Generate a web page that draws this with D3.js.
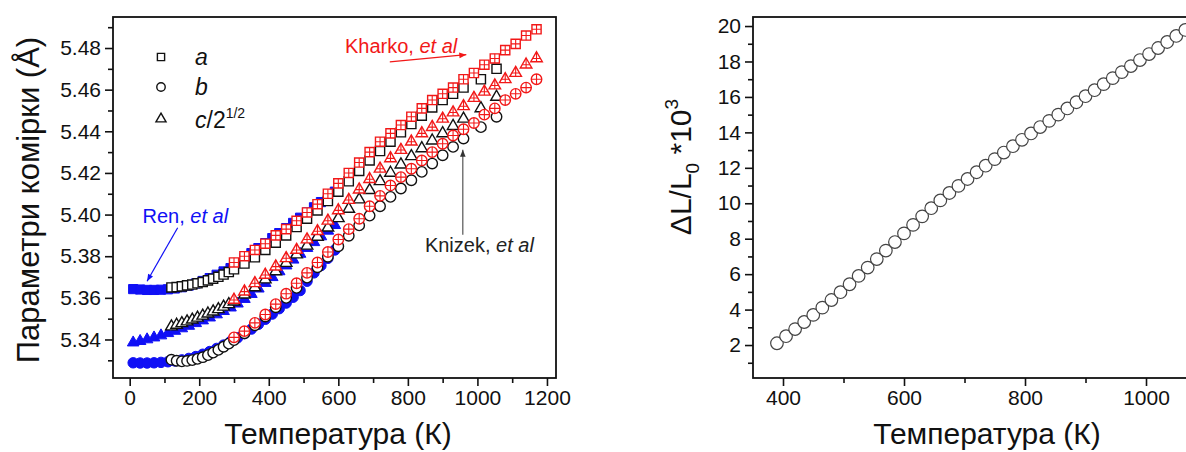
<!DOCTYPE html>
<html>
<head>
<meta charset="utf-8">
<script src="https://cdn.jsdelivr.net/npm/d3@7"></script>
<style>
  body { margin: 0; background: #fff; }
  svg { display: block; }
  text { font-family: "Liberation Sans", Arial, sans-serif; fill: #111; }
</style>
</head>
<body>
<div id="chart"></div>
<script>
// ---- left panel: lattice parameters (Å) vs temperature (K) ----
// Ren, et al (filled blue)
const renT = [10, 30, 50, 70, 90, 110, 130, 150, 170, 190, 210, 230, 250, 270, 290,
              310, 330, 350, 370, 390, 410, 430, 450, 470, 490, 510, 530, 550, 570, 590];
const renA = [5.3642, 5.3640, 5.3638, 5.3638, 5.3639, 5.3641, 5.3645, 5.3651, 5.3659, 5.3669,
              5.3681, 5.3695, 5.3711, 5.3727, 5.3743, 5.3767, 5.3791, 5.3815, 5.3839, 5.3863,
              5.3887, 5.3911, 5.3935, 5.3960, 5.3985, 5.4010, 5.4035, 5.4060, 5.4085, 5.4110];
const renB = [5.3288, 5.3287, 5.3287, 5.3288, 5.3290, 5.3293, 5.3297, 5.3302, 5.3309, 5.3318,
              5.3329, 5.3342, 5.3357, 5.3373, 5.3390, 5.3408, 5.3428, 5.3450, 5.3473, 5.3497,
              5.3522, 5.3548, 5.3575, 5.3603, 5.3635, 5.3680, 5.3720, 5.3755, 5.3790, 5.3830];
const renC = [5.3385, 5.3392, 5.3400, 5.3409, 5.3419, 5.3430, 5.3441, 5.3453, 5.3465, 5.3478,
              5.3491, 5.3505, 5.3520, 5.3536, 5.3553, 5.3572, 5.3594, 5.3618, 5.3644, 5.3671,
              5.3699, 5.3727, 5.3755, 5.3783, 5.3811, 5.3839, 5.3867, 5.3895, 5.3922, 5.3949];

// Knizek, et al (open black)
const knizekT = [120, 135, 150, 165, 180, 195, 210, 225, 240, 255, 270, 285, 300,
                 330, 360, 390, 420, 450, 480, 510, 540, 570, 600, 630, 660, 690, 720,
                 750, 780, 810, 840, 870, 900, 930, 960, 1010, 1055];
const knizekA = [5.3650, 5.3652, 5.3655, 5.3660, 5.3664, 5.3670, 5.3676, 5.3684, 5.3692, 5.3701,
                 5.3712, 5.3724, 5.3737, 5.3765, 5.3795, 5.3830, 5.3865, 5.3900, 5.3940, 5.3980,
                 5.4020, 5.4065, 5.4110, 5.4160, 5.4210, 5.4260, 5.4305, 5.4350, 5.4395, 5.4435,
                 5.4475, 5.4515, 5.4550, 5.4580, 5.4610, 5.4650, 5.4700];
const knizekB = [5.3303, 5.3298, 5.3295, 5.3297, 5.3301, 5.3307, 5.3315, 5.3325, 5.3337, 5.3350,
                 5.3365, 5.3380, 5.3397, 5.3430, 5.3468, 5.3510, 5.3555, 5.3600, 5.3648, 5.3697,
                 5.3747, 5.3797, 5.3848, 5.3898, 5.3948, 5.3995, 5.4040, 5.4085, 5.4125, 5.4165,
                 5.4205, 5.4245, 5.4285, 5.4325, 5.4365, 5.4420, 5.4470];
const knizekC = [5.3462, 5.3470, 5.3478, 5.3486, 5.3495, 5.3504, 5.3514, 5.3524, 5.3534, 5.3545,
                 5.3557, 5.3569, 5.3582, 5.3615, 5.3650, 5.3688, 5.3727, 5.3767, 5.3808, 5.3850,
                 5.3893, 5.3937, 5.3982, 5.4027, 5.4072, 5.4117, 5.4160, 5.4200, 5.4240, 5.4280,
                 5.4318, 5.4355, 5.4390, 5.4425, 5.4460, 5.4510, 5.4565];

// Kharko, et al (red, crossed)
const kharkoT = [300, 330, 360, 390, 420, 450, 480, 510, 540, 570, 600, 630, 660, 690, 720,
                 750, 780, 810, 840, 870, 900, 930, 960, 990, 1020, 1050, 1080, 1110, 1140, 1170];
const kharkoA = [5.377, 5.380, 5.383, 5.386, 5.390, 5.393, 5.397, 5.401, 5.405, 5.410,
                 5.415, 5.420, 5.425, 5.430, 5.435, 5.439, 5.443, 5.447, 5.451, 5.455,
                 5.458, 5.461, 5.465, 5.468, 5.472, 5.475, 5.479, 5.482, 5.486, 5.489];
const kharkoB = [5.341, 5.344, 5.348, 5.352, 5.357, 5.362, 5.367, 5.372, 5.377, 5.382,
                 5.388, 5.393, 5.398, 5.404, 5.409, 5.414, 5.418, 5.422, 5.426, 5.430,
                 5.434, 5.438, 5.441, 5.444, 5.448, 5.451, 5.455, 5.458, 5.461, 5.465];
const kharkoC = [5.359, 5.363, 5.367, 5.371, 5.375, 5.379, 5.383, 5.388, 5.392, 5.397,
                 5.402, 5.407, 5.412, 5.417, 5.422, 5.427, 5.431, 5.435, 5.439, 5.442,
                 5.446, 5.449, 5.452, 5.456, 5.459, 5.462, 5.465, 5.468, 5.472, 5.475];

const leftXTicks = [0, 200, 400, 600, 800, 1000, 1200];
const leftXMinor = [100, 300, 500, 700, 900, 1100];
const leftYTicks = [5.34, 5.36, 5.38, 5.40, 5.42, 5.44, 5.46, 5.48];
const leftYMinor = [5.33, 5.35, 5.37, 5.39, 5.41, 5.43, 5.45, 5.47, 5.49];

// ---- right panel: relative elongation ΔL/L0 * 10^3 ----
const dilT = [390, 405, 420, 435, 450, 465, 480, 495, 510, 525, 540, 555, 570, 585, 600,
              615, 630, 645, 660, 675, 690, 705, 720, 735, 750, 765, 780, 795, 810, 825,
              840, 855, 870, 885, 900, 915, 930, 945, 960, 975, 990, 1005, 1020, 1035, 1050, 1065];
const dilV = [2.10, 2.50, 2.90, 3.30, 3.70, 4.11, 4.54, 4.98, 5.43, 5.90, 6.37, 6.85, 7.33, 7.81, 8.30,
              8.78, 9.26, 9.72, 10.16, 10.58, 10.98, 11.37, 11.75, 12.12, 12.49, 12.86, 13.22, 13.58, 13.94, 14.30,
              14.65, 15.00, 15.35, 15.70, 16.04, 16.38, 16.72, 17.06, 17.40, 17.74, 18.08, 18.42, 18.76, 19.10, 19.44, 19.78];

const rightXTicks = [400, 600, 800, 1000];
const rightXMinor = [500, 700, 900, 1100];
const rightYTicks = [2, 4, 6, 8, 10, 12, 14, 16, 18, 20];
const rightYMinor = [1, 3, 5, 7, 9, 11, 13, 15, 17, 19];

const BLUE = "#1010f5";
const RED = "#f21818";

const svg = d3.select("#chart").append("svg")
    .attr("width", 1186)
    .attr("height", 452)
    .style("background", "#fff");

// arrow heads
const defs = svg.append("defs");
[["arrRed", RED], ["arrBlack", "#333"], ["arrBlue", BLUE]].forEach(([id, col]) => {
    defs.append("marker")
        .attr("id", id)
        .attr("viewBox", "0 -5 10 10")
        .attr("refX", 10).attr("refY", 0)
        .attr("markerWidth", 9).attr("markerHeight", 7)
        .attr("markerUnits", "userSpaceOnUse")
        .attr("orient", "auto")
        .append("path")
        .attr("d", "M0,-4L10,0L0,4Z")
        .attr("fill", col);
});

// marker shapes: outline + optional cross
function shapePath(kind) {
    if (kind === "square") return d3.symbol(d3.symbolSquare, 84)();
    if (kind === "circle") return d3.symbol(d3.symbolCircle, 86)();
    return d3.symbol(d3.symbolTriangle, 58)();
}
function crossPath(kind) {
    if (kind === "square") return "M-4.6,0H4.6M0,-4.6V4.6";
    if (kind === "circle") return "M-5.2,0H5.2M0,-5.2V5.2";
    return "M0,-6.6V3.3M-3.8,0H3.8";
}

function drawSeries(g, x, y, T, V, kind, opts) {
    const pts = g.append("g").selectAll("g")
        .data(T.map((t, i) => ({ t: t, v: V[i] })))
        .enter().append("g")
        .attr("transform", d => `translate(${x(d.t)},${y(d.v)})`);
    pts.append("path")
        .attr("d", shapePath(kind))
        .attr("fill", opts.fill)
        .attr("stroke", opts.stroke)
        .attr("stroke-width", opts.width);
    if (opts.cross) {
        pts.append("path")
            .attr("d", crossPath(kind))
            .attr("fill", "none")
            .attr("stroke", opts.stroke)
            .attr("stroke-width", 1.1);
    }
}

function drawAxes(g, x, y, w, h, xt, xm, yt, ym, yFmt) {
    const ax = g.append("g").attr("transform", `translate(0,${h})`);
    ax.call(d3.axisBottom(x).tickValues(xt).tickSize(8).tickPadding(4).tickFormat(d3.format("d")));
    ax.append("g").call(d3.axisBottom(x).tickValues(xm).tickSize(5).tickFormat(""));
    const ay = g.append("g");
    ay.call(d3.axisLeft(y).tickValues(yt).tickSize(8).tickPadding(4).tickFormat(yFmt));
    ay.append("g").call(d3.axisLeft(y).tickValues(ym).tickSize(5).tickFormat(""));
    g.selectAll(".domain").remove();
    g.selectAll(".tick line").attr("stroke", "#111").attr("stroke-width", 1.6);
    g.selectAll(".tick text").attr("font-size", "21px").attr("fill", "#111");
    g.append("rect")
        .attr("width", w).attr("height", h)
        .attr("fill", "none")
        .attr("stroke", "#111")
        .attr("stroke-width", 1.8);
}

// ================= left panel =================
const L = { left: 113, top: 17, width: 443, height: 361 };
const gL = svg.append("g").attr("transform", `translate(${L.left},${L.top})`);

const xL = d3.scaleLinear().domain([-48, 1226]).range([0, L.width]);
const yL = d3.scaleLinear().domain([5.3215, 5.4949]).range([L.height, 0]);

drawAxes(gL, xL, yL, L.width, L.height, leftXTicks, leftXMinor, leftYTicks, leftYMinor, d3.format(".2f"));

const plotL = gL.append("g");
// Ren (blue, filled)
drawSeries(plotL, xL, yL, renT, renA, "square", { fill: BLUE, stroke: BLUE, width: 1 });
drawSeries(plotL, xL, yL, renT, renC, "triangle", { fill: BLUE, stroke: BLUE, width: 1 });
drawSeries(plotL, xL, yL, renT, renB, "circle", { fill: BLUE, stroke: BLUE, width: 1 });
// Knizek (black, open)
drawSeries(plotL, xL, yL, knizekT, knizekA, "square", { fill: "#fff", stroke: "#111", width: 1.4 });
drawSeries(plotL, xL, yL, knizekT, knizekC, "triangle", { fill: "#fff", stroke: "#111", width: 1.4 });
drawSeries(plotL, xL, yL, knizekT, knizekB, "circle", { fill: "#fff", stroke: "#111", width: 1.4 });
// Kharko (red, crossed)
drawSeries(plotL, xL, yL, kharkoT, kharkoA, "square", { fill: "#fff", stroke: RED, width: 1.4, cross: true });
drawSeries(plotL, xL, yL, kharkoT, kharkoC, "triangle", { fill: "#fff", stroke: RED, width: 1.4, cross: true });
drawSeries(plotL, xL, yL, kharkoT, kharkoB, "circle", { fill: "#fff", stroke: RED, width: 1.4, cross: true });

// legend
const legend = gL.append("g").attr("transform", "translate(48,40)");
const legendItems = [
    { kind: "square", dy: 0, size: 52 },
    { kind: "circle", dy: 30, size: 56 },
    { kind: "triangle", dy: 62, size: 44 }
];
legendItems.forEach(it => {
    legend.append("path")
        .attr("transform", `translate(0,${it.dy})`)
        .attr("d", it.kind === "square" ? d3.symbol(d3.symbolSquare, it.size)()
              : it.kind === "circle" ? d3.symbol(d3.symbolCircle, it.size)()
              : d3.symbol(d3.symbolTriangle, it.size)())
        .attr("fill", "none").attr("stroke", "#111").attr("stroke-width", 1.4);
});
legend.append("text").attr("x", 34).attr("y", 8).attr("font-size", "23px")
    .attr("font-style", "italic").text("a");
legend.append("text").attr("x", 34).attr("y", 38).attr("font-size", "23px")
    .attr("font-style", "italic").text("b");
const lc = legend.append("text").attr("x", 34).attr("y", 71).attr("font-size", "23px")
    .attr("font-style", "italic");
lc.append("tspan").text("c");
lc.append("tspan").attr("font-style", "normal").text("/2");
lc.append("tspan").attr("font-style", "normal").attr("font-size", "14px").attr("dy", -10).text("1/2");

// annotations
function label(g, x, y, parts, color) {
    const t = g.append("text").attr("x", x).attr("y", y).attr("font-size", "20px").style("fill", color);
    t.append("tspan").text(parts[0]);
    t.append("tspan").attr("font-style", "italic").text(parts[1]);
}
label(gL, xL(619), yL(5.4776), ["Kharko, ", "et al"], RED);
gL.append("line")
    .attr("x1", xL(748)).attr("y1", yL(5.4733))
    .attr("x2", xL(968)).attr("y2", yL(5.4768))
    .attr("stroke", RED).attr("stroke-width", 1.2)
    .attr("marker-end", "url(#arrRed)");

label(gL, xL(849), yL(5.3822), ["Knizek, ", "et al"], "#222");
gL.append("line")
    .attr("x1", xL(958)).attr("y1", yL(5.3903))
    .attr("x2", xL(958)).attr("y2", yL(5.4311))
    .attr("stroke", "#555").attr("stroke-width", 1.2)
    .attr("marker-end", "url(#arrBlack)");

label(gL, xL(37), yL(5.3961), ["Ren, ", "et al"], BLUE);
gL.append("line")
    .attr("x1", xL(138)).attr("y1", yL(5.3937))
    .attr("x2", xL(50)).attr("y2", yL(5.3680))
    .attr("stroke", BLUE).attr("stroke-width", 1.2)
    .attr("marker-end", "url(#arrBlue)");

// axis titles
svg.append("text")
    .attr("x", 338).attr("y", 444)
    .attr("text-anchor", "middle").attr("font-size", "30px")
    .text("Температура (К)");
svg.append("text")
    .attr("transform", "translate(39,200) rotate(-90)")
    .attr("text-anchor", "middle").attr("font-size", "31px")
    .text("Параметри комірки (Å)");

// ================= right panel =================
const R = { left: 753, top: 17, width: 443, height: 361 };
const gR = svg.append("g").attr("transform", `translate(${R.left},${R.top})`);

const xR = d3.scaleLinear().domain([350.4, 350.4 + 443 / 0.605]).range([0, R.width]);
const yR = d3.scaleLinear().domain([0.14, 20.51]).range([R.height, 0]);

drawAxes(gR, xR, yR, R.width, R.height, rightXTicks, rightXMinor, rightYTicks, rightYMinor, d3.format("d"));

gR.append("g").selectAll("circle")
    .data(dilT.map((t, i) => ({ t: t, v: dilV[i] })))
    .enter().append("circle")
    .attr("cx", d => xR(d.t))
    .attr("cy", d => yR(d.v))
    .attr("r", 6.3)
    .attr("fill", "#fff")
    .attr("stroke", "#444")
    .attr("stroke-width", 1.2);

svg.append("text")
    .attr("x", 987).attr("y", 444)
    .attr("text-anchor", "middle").attr("font-size", "30px")
    .text("Температура (К)");
const ry = svg.append("text")
    .attr("transform", "translate(691,167) rotate(-90)")
    .attr("text-anchor", "middle").attr("font-size", "30px");
ry.append("tspan").text("ΔL/L");
ry.append("tspan").attr("font-size", "19px").attr("dy", 8).text("0");
ry.append("tspan").attr("dy", -8).text(" *10");
ry.append("tspan").attr("font-size", "19px").attr("dy", -13).text("3");
</script>
</body>
</html>
